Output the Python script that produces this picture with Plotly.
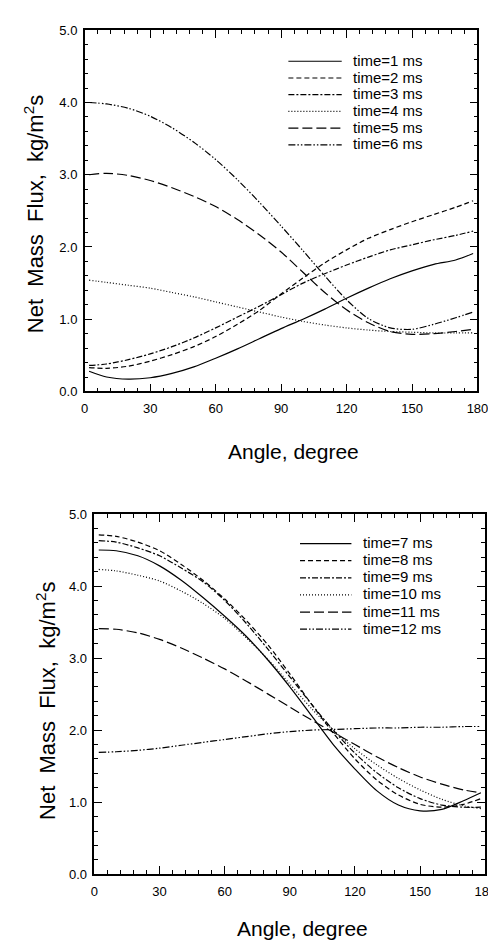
import plotly.graph_objects as go

# ---------------- data ----------------
angle = [2, 10, 20, 30, 40, 50, 60, 70, 80, 90, 100, 110, 120, 130, 140, 150, 160, 170, 178]

top_names = ["time=1 ms", "time=2 ms", "time=3 ms", "time=4 ms", "time=5 ms", "time=6 ms"]
t1 = [0.28, 0.20, 0.17, 0.19, 0.25, 0.34, 0.46, 0.59, 0.73, 0.87, 1.00, 1.14, 1.29, 1.43, 1.56, 1.67, 1.76, 1.82, 1.91]
t2 = [0.33, 0.32, 0.35, 0.42, 0.51, 0.62, 0.76, 0.93, 1.12, 1.35, 1.57, 1.78, 1.96, 2.12, 2.24, 2.35, 2.45, 2.55, 2.64]
t3 = [0.36, 0.38, 0.44, 0.52, 0.62, 0.74, 0.88, 1.03, 1.18, 1.34, 1.50, 1.63, 1.75, 1.86, 1.96, 2.03, 2.10, 2.16, 2.22]
t4 = [1.54, 1.51, 1.47, 1.43, 1.37, 1.31, 1.24, 1.17, 1.10, 1.03, 0.97, 0.92, 0.88, 0.85, 0.83, 0.82, 0.81, 0.81, 0.81]
t5 = [3.00, 3.02, 2.99, 2.92, 2.82, 2.70, 2.56, 2.38, 2.17, 1.93, 1.65, 1.37, 1.13, 0.95, 0.83, 0.79, 0.80, 0.83, 0.86]
t6 = [4.00, 3.98, 3.92, 3.81, 3.65, 3.45, 3.21, 2.93, 2.62, 2.29, 1.95, 1.60, 1.27, 1.01, 0.88, 0.86, 0.93, 1.02, 1.10]

bottom_names = ["time=7 ms", "time=8 ms", "time=9 ms", "time=10 ms", "time=11 ms", "time=12 ms"]
t7 = [4.50, 4.49, 4.42, 4.28, 4.08, 3.84, 3.58, 3.30, 2.97, 2.60, 2.20, 1.80, 1.46, 1.16, 0.96, 0.88, 0.90, 1.02, 1.13]
t8 = [4.71, 4.69, 4.61, 4.49, 4.30, 4.08, 3.82, 3.52, 3.18, 2.78, 2.36, 1.96, 1.60, 1.31, 1.10, 0.97, 0.93, 0.97, 1.05]
t9 = [4.63, 4.61, 4.53, 4.42, 4.25, 4.06, 3.80, 3.48, 3.12, 2.74, 2.36, 2.00, 1.68, 1.41, 1.20, 1.05, 0.96, 0.93, 0.93]
t10 = [4.23, 4.21, 4.15, 4.07, 3.93, 3.76, 3.55, 3.28, 2.98, 2.64, 2.30, 2.00, 1.74, 1.52, 1.33, 1.17, 1.04, 0.95, 0.91]
t11 = [3.41, 3.40, 3.35, 3.26, 3.14, 3.00, 2.85, 2.68, 2.50, 2.32, 2.14, 1.97, 1.80, 1.63, 1.48, 1.35, 1.25, 1.17, 1.13]
t12 = [1.69, 1.70, 1.72, 1.75, 1.79, 1.83, 1.87, 1.91, 1.95, 1.98, 2.00, 2.01, 2.02, 2.03, 2.03, 2.04, 2.04, 2.05, 2.05]

x_ticks = [0, 30, 60, 90, 120, 150, 180]
y_ticks = [0, 1, 2, 3, 4, 5]
x_title = "Angle, degree"
y_title = "Net  Mass  Flux,  kg/m<sup>2</sup>s"

# ---------------- styling ----------------
W, H = 496, 951
dashes = ["solid", "5px,3px", "6px,2px,2px,2px", "1px,2px", "10px,4px", "7px,2px,1.5px,2px,1.5px,2px"]
LINE_W = 1.2
FONT = "Arial"


def fx(p):
    return p / W


def fy(p):
    return 1 - p / H


fig = go.Figure()

for name, ys, d in zip(top_names, [t1, t2, t3, t4, t5, t6], dashes):
    fig.add_trace(go.Scatter(x=angle, y=ys, mode="lines", name=name, showlegend=False,
                             line=dict(color="black", width=LINE_W, dash=d, shape="spline", smoothing=0.8),
                             xaxis="x", yaxis="y"))
for name, ys, d in zip(bottom_names, [t7, t8, t9, t10, t11, t12], dashes):
    fig.add_trace(go.Scatter(x=angle, y=ys, mode="lines", name=name, showlegend=False,
                             line=dict(color="black", width=LINE_W, dash=d, shape="spline", smoothing=0.8),
                             xaxis="x2", yaxis="y2"))

common = dict(ticks="inside", ticklen=8, tickwidth=1.2, tickcolor="black",
              showline=True, linecolor="black", linewidth=1.5, mirror="ticks",
              showgrid=False, zeroline=False,
              tickfont=dict(family=FONT, size=13, color="black"))

xcommon = dict(common, range=[0, 180], tickmode="array", tickvals=x_ticks,
               minor=dict(dtick=6, tick0=0, ticks="inside", ticklen=4, tickwidth=1, tickcolor="black"),
               ticklabelstandoff=4)
ycommon = dict(common, range=[0, 5], tickmode="array", tickvals=y_ticks, tickformat=".1f",
               minor=dict(dtick=0.2, tick0=0, ticks="inside", ticklen=4, tickwidth=1, tickcolor="black"),
               ticklabelstandoff=3)

# plot-area pixel boxes
top_box = dict(l=75, r=480, t=15.5, b=382.5)
bot_box = dict(l=85, r=488, t=507, b=873)

fig.update_layout(
    width=W, height=H,
    margin=dict(l=0, r=0, t=0, b=0),
    paper_bgcolor="white", plot_bgcolor="white",
    showlegend=False,
    xaxis=dict(xcommon, domain=[fx(top_box["l"]), fx(top_box["r"])], anchor="y"),
    yaxis=dict(ycommon, domain=[fy(top_box["b"]), fy(top_box["t"])], anchor="x"),
    xaxis2=dict(xcommon, domain=[fx(bot_box["l"]), fx(bot_box["r"])], anchor="y2"),
    yaxis2=dict(ycommon, domain=[fy(bot_box["b"]), fy(bot_box["t"])], anchor="x2"),
)

annotations = []
shapes = []

# axis titles
for (tx, ty) in [(290, 443), (300, 928)]:
    annotations.append(dict(text=x_title, xref="paper", yref="paper", x=fx(tx), y=fy(ty),
                            showarrow=False, xanchor="center", yanchor="middle",
                            font=dict(family=FONT, size=21, color="black")))
for (tx, ty) in [(22, 202), (35, 697)]:
    annotations.append(dict(text=y_title, xref="paper", yref="paper", x=fx(tx), y=fy(ty),
                            showarrow=False, xanchor="center", yanchor="middle", textangle=-90,
                            font=dict(family=FONT, size=22, color="black")))


# legends (key line + label)
def add_legend(names, key_x0, key_x1, text_x, y_first, step):
    for i, (name, d) in enumerate(zip(names, dashes)):
        yc = y_first + i * step
        shapes.append(dict(type="line", xref="paper", yref="paper",
                           x0=fx(key_x0), x1=fx(key_x1), y0=fy(yc + 1), y1=fy(yc + 1),
                           line=dict(color="black", width=LINE_W, dash=d)))
        annotations.append(dict(text=name, xref="paper", yref="paper", x=fx(text_x), y=fy(yc),
                                showarrow=False, xanchor="left", yanchor="middle",
                                font=dict(family=FONT, size=15, color="black")))


add_legend(top_names, 285, 340, 350, 46, 17)
add_legend(bottom_names, 297, 350, 360, 536, 17.4)

fig.update_layout(annotations=annotations, shapes=shapes)

fig.write_html("out.html")
